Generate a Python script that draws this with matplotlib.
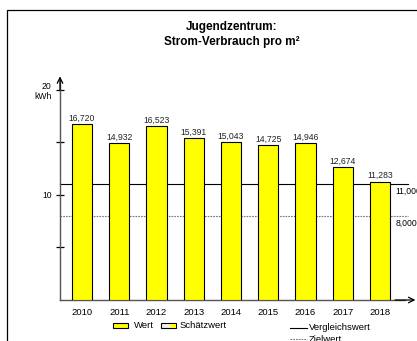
import matplotlib
matplotlib.use("Agg")
import matplotlib.pyplot as plt
from matplotlib.patches import Rectangle
from matplotlib.lines import Line2D

plt.rcParams['font.family'] = ['Liberation Sans', 'DejaVu Sans']

# Daten
jahre = ['2010', '2011', '2012', '2013', '2014', '2015', '2016', '2017', '2018']
werte = [16.720, 14.932, 16.523, 15.391, 15.043, 14.725, 14.946, 12.674, 11.283]
vergleichswert = 11.0
zielwert = 8.0

W, H = 417, 341
fig = plt.figure(figsize=(W / 100, H / 100), dpi=100)

def fx(px):
    return px / W

def fy(py):
    return 1 - py / H

# Rahmen (rechts/unten abgeschnitten)
fig.add_artist(Rectangle((fx(7), fy(400)), 1.5, fy(10) - fy(400),
                         transform=fig.transFigure, fill=False, lw=0.9, color='black'))

# Titel
fig.text(fx(232), fy(27), 'Jugendzentrum:', ha='center', va='center',
         fontsize=8.5, fontweight='bold')
fig.text(fx(232), fy(42), 'Strom-Verbrauch pro m²', ha='center', va='center',
         fontsize=8.5, fontweight='bold')

ax = fig.add_axes([fx(60), fy(300), fx(405) - fx(60), fy(80) - fy(300)])
x = list(range(len(jahre)))
ax.bar(x, werte, width=0.54, color='#ffff00', edgecolor='black', linewidth=0.8, zorder=3)
for xi, v in zip(x, werte):
    ax.text(xi, v + 0.15, f'{v:.3f}'.replace('.', ','), ha='center', va='bottom',
            fontsize=6.2, color='#222222')

ax.set_xlim(-0.59, 8.67)
ax.set_ylim(0, 20.95)

# Vergleichs- und Zielwert
ax.plot([-0.59, 8.75], [vergleichswert] * 2, color='black', lw=0.8, zorder=2, clip_on=False)
ax.plot([-0.59, 8.75], [zielwert] * 2, color='#777777', lw=0.8, ls=(0, (1.5, 1)), zorder=2,
        clip_on=False)
ax.text(8.42, vergleichswert - 0.25, f'{vergleichswert:.3f}'.replace('.', ','),
        ha='left', va='top', fontsize=6.2, clip_on=False)
ax.text(8.42, zielwert - 0.25, f'{zielwert:.3f}'.replace('.', ','),
        ha='left', va='top', fontsize=6.2, clip_on=False)

for s in ['top', 'right']:
    ax.spines[s].set_visible(False)
ax.spines['left'].set_color('#555555')
ax.spines['bottom'].set_color('#555555')
ax.spines['left'].set_linewidth(1.0)
ax.spines['bottom'].set_linewidth(1.0)

# Pfeile
ax.annotate('', xy=(-0.59, 21.3), xytext=(-0.59, 20.0),
            arrowprops=dict(arrowstyle='->', lw=0.9, color='black', shrinkA=0, shrinkB=0),
            annotation_clip=False)
ax.annotate('', xy=(8.95, 0), xytext=(8.4, 0),
            arrowprops=dict(arrowstyle='->', lw=0.9, color='black', shrinkA=0, shrinkB=0),
            annotation_clip=False)

ax.set_xticks(x)
ax.set_xticklabels(jahre, fontsize=6.8)
ax.tick_params(axis='x', length=0, pad=6)
ax.set_yticks([5, 10, 15, 20])
ax.set_yticklabels(['', '10', '', '20\nkWh'], fontsize=6.2)
ax.tick_params(axis='y', direction='inout', length=6, width=0.9, pad=3)

# Legende
fig.add_artist(Rectangle((fx(113), fy(328)), fx(128) - fx(113), fy(323) - fy(328),
                         transform=fig.transFigure, facecolor='#ffff00', edgecolor='black', lw=0.8))
fig.text(fx(134), fy(326), 'Wert', ha='left', va='center', fontsize=6.8)
fig.add_artist(Rectangle((fx(161), fy(328)), fx(176) - fx(161), fy(323) - fy(328),
                         transform=fig.transFigure, facecolor='#f2f2e0', edgecolor='black', lw=0.8))
fig.add_artist(Rectangle((fx(171), fy(327.5)), fx(175.5) - fx(171), fy(323.5) - fy(327.5),
                         transform=fig.transFigure, facecolor='#ffff00', edgecolor='none'))
fig.text(fx(180), fy(326), 'Schätzwert', ha='left', va='center', fontsize=6.8)
fig.add_artist(Line2D([fx(290), fx(307)], [fy(328), fy(328)], transform=fig.transFigure,
                      color='black', lw=0.8))
fig.text(fx(309), fy(327), 'Vergleichswert', ha='left', va='center', fontsize=6.8)
fig.add_artist(Line2D([fx(290), fx(307)], [fy(339), fy(339)], transform=fig.transFigure,
                      color='#777777', lw=0.8, ls=(0, (1.5, 1))))
fig.text(fx(309), fy(339), 'Zielwert', ha='left', va='center', fontsize=6.8)

fig.savefig('out.png', dpi=100)
